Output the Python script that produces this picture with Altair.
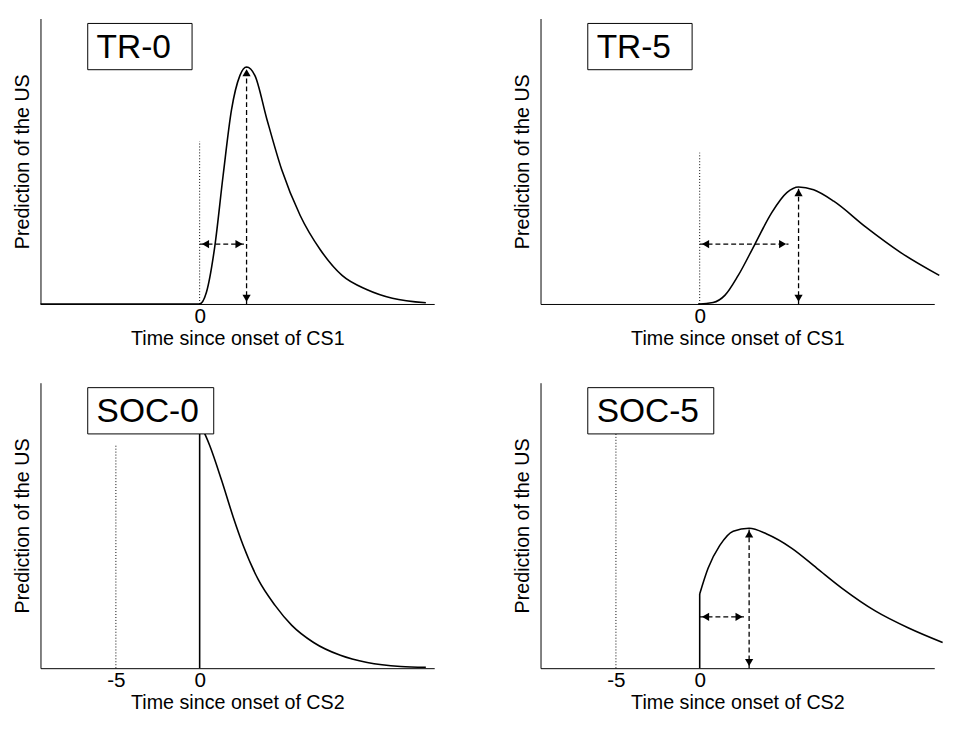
import pandas as pd
import altair as alt

FONT = "Liberation Sans"

# Curves: x in time units (0 = CS onset), y = prediction (0..1)
tr0_x = [-9.5, -0.1, 0.0, 0.4, 0.9, 1.4, 1.9, 2.4, 2.8, 3.3, 4.0, 4.9, 6.0, 7.2, 8.5, 10.0, 11.5, 13.5]
tr0_y = [0.0, 0.0, 0.0, 0.04, 0.20, 0.45, 0.68, 0.80, 0.83, 0.80, 0.65, 0.47, 0.31, 0.19, 0.10, 0.05, 0.02, 0.004]

tr5_x = [-0.1, 0.0, 0.8, 1.5, 2.3, 3.3, 4.3, 5.2, 5.9, 6.8, 8.0, 9.9, 12.0, 14.3]
tr5_y = [0.0, 0.0, 0.005, 0.03, 0.10, 0.21, 0.32, 0.39, 0.41, 0.40, 0.36, 0.27, 0.18, 0.10]

soc0_x = [0.0, 0.6, 1.3, 2.0, 2.6, 3.5, 4.5, 5.5, 6.8, 8.4, 10.0, 12.0, 13.5]
soc0_y = [0.86, 0.78, 0.66, 0.53, 0.43, 0.31, 0.22, 0.15, 0.09, 0.045, 0.02, 0.006, 0.003]

soc5_x = [0.0, 0.5, 1.2, 2.0, 2.95, 4.0, 5.5, 7.0, 8.5, 10.5, 12.5, 14.5]
soc5_y = [0.26, 0.35, 0.43, 0.48, 0.49, 0.47, 0.42, 0.35, 0.28, 0.20, 0.14, 0.09]

# dotted onset lines: (x, top)
tr0_dot = (0.0, 0.57)
tr5_dot = (0.0, 0.53)
soc0_dot = (-5.0, 0.78)
soc5_dot = (-5.0, 0.84)

# arrows: horizontal (y, x0, x1) and vertical (x, ytop)
tr0_harrow = (0.21, 0.0, 2.7)
tr0_varrow = (2.8, 0.83)
tr5_harrow = (0.21, 0.0, 5.3)
tr5_varrow = (5.9, 0.41)
soc5_harrow = (0.18, 0.0, 2.7)
soc5_varrow = (2.95, 0.49)

# vertical jumps at onset in SOC panels: (x, top)
soc0_jump = (0.0, 0.86)
soc5_jump = (0.0, 0.26)

W, H = 400, 290
XDOM = [-9.5, 14.0]


def panel(label, xs, ys, dot, xtitle, ticks, harrow=None, varrow=None, jump=None):
    xsc = alt.Scale(domain=XDOM, nice=False, zero=False)
    ysc = alt.Scale(domain=[0, 1], nice=False)
    xax = alt.X("x:Q", scale=xsc, title=xtitle,
                axis=alt.Axis(values=ticks, ticks=False, grid=False, labelFontSize=21,
                              titleFontSize=20, titleFont=FONT, labelFont=FONT,
                              titleFontWeight="normal", labelExpr="'' + datum.value",
                              domainColor="black", labelColor="black", titleColor="black",
                              labelPadding=2, titlePadding=2))
    yax = alt.Y("y:Q", scale=ysc, title="Prediction of the US",
                axis=alt.Axis(labels=False, ticks=False, grid=False, titleFontSize=20,
                              titleFont=FONT, titleFontWeight="normal", domainColor="black",
                              titleColor="black", titlePadding=8))
    curve = alt.Chart(pd.DataFrame({"x": xs, "y": ys})).mark_line(
        color="black", strokeWidth=1.6, interpolate="monotone").encode(x=xax, y=yax)
    layers = [curve]
    d = pd.DataFrame({"x": [dot[0]], "y": [0.0], "y2": [dot[1]]})
    layers.append(alt.Chart(d).mark_rule(color="black", strokeDash=[1, 2], strokeWidth=1).encode(
        x=alt.X("x:Q", scale=xsc), y=alt.Y("y:Q", scale=ysc), y2="y2:Q"))
    if jump:
        j = pd.DataFrame({"x": [jump[0]], "y": [0.0], "y2": [jump[1]]})
        layers.append(alt.Chart(j).mark_rule(color="black", strokeWidth=1.6).encode(
            x=alt.X("x:Q", scale=xsc), y=alt.Y("y:Q", scale=ysc), y2="y2:Q"))
    heads = []
    if harrow:
        hy, hx0, hx1 = harrow
        h = pd.DataFrame({"x": [hx0], "x2": [hx1], "y": [hy]})
        layers.append(alt.Chart(h).mark_rule(color="black", strokeDash=[5, 3], strokeWidth=1.3).encode(
            x=alt.X("x:Q", scale=xsc), x2="x2:Q", y=alt.Y("y:Q", scale=ysc)))
        heads += [(hx0 + 0.35, hy, "triangle-left"), (hx1 - 0.35, hy, "triangle-right")]
    if varrow:
        vx, vy = varrow
        v = pd.DataFrame({"x": [vx], "y": [0.0], "y2": [vy]})
        layers.append(alt.Chart(v).mark_rule(color="black", strokeDash=[5, 3], strokeWidth=1.3).encode(
            x=alt.X("x:Q", scale=xsc), y=alt.Y("y:Q", scale=ysc), y2="y2:Q"))
        heads += [(vx, vy - 0.02, "triangle-up"), (vx, 0.02, "triangle-down")]
    for hx, hy, shp in heads:
        p = pd.DataFrame({"x": [hx], "y": [hy]})
        layers.append(alt.Chart(p).mark_point(shape=shp, filled=True, color="black", size=70, opacity=1).encode(
            x=alt.X("x:Q", scale=xsc), y=alt.Y("y:Q", scale=ysc)))
    box = alt.Chart(pd.DataFrame({"t": [label]})).mark_rect(
        fill="white", stroke="black", strokeWidth=1).encode(
        x=alt.value(48), x2=alt.value(48 + 22 * len(label) + 18), y=alt.value(5), y2=alt.value(52))
    txt = alt.Chart(pd.DataFrame({"t": [label]})).mark_text(
        fontSize=34, font=FONT, color="black", align="left", baseline="middle").encode(
        x=alt.value(57), y=alt.value(30), text="t:N")
    layers += [box, txt]
    return alt.layer(*layers).properties(width=W, height=H)


p1 = panel("TR-0", tr0_x, tr0_y, tr0_dot, "Time since onset of CS1", [0], tr0_harrow, tr0_varrow)
p2 = panel("TR-5", tr5_x, tr5_y, tr5_dot, "Time since onset of CS1", [0], tr5_harrow, tr5_varrow)
p3 = panel("SOC-0", soc0_x, soc0_y, soc0_dot, "Time since onset of CS2", [-5, 0], jump=soc0_jump)
p4 = panel("SOC-5", soc5_x, soc5_y, soc5_dot, "Time since onset of CS2", [-5, 0], soc5_harrow, soc5_varrow, jump=soc5_jump)

chart = alt.vconcat(
    alt.hconcat(p1, p2, spacing=80),
    alt.hconcat(p3, p4, spacing=80),
    spacing=35,
    background="white",
    padding=5,
).configure_view(strokeWidth=0, stroke=None)

chart.save("out.html", embed_options={"renderer": "svg", "actions": False})
